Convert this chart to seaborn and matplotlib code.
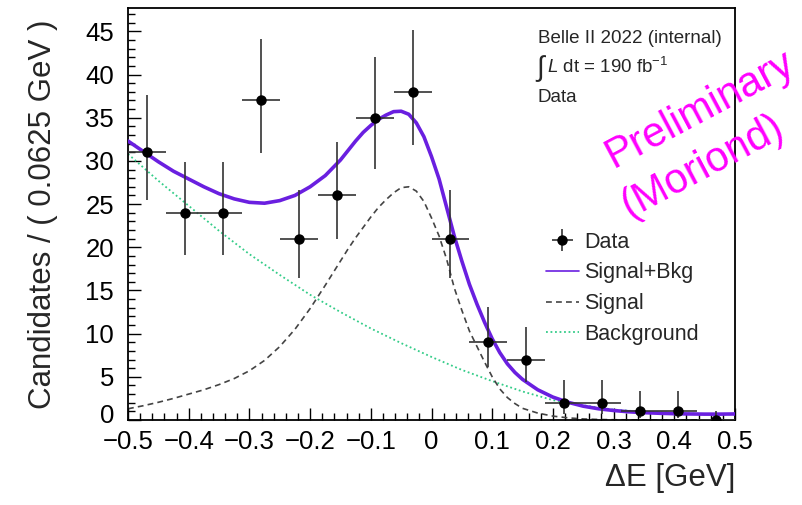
import numpy as np
import pandas as pd
import matplotlib
matplotlib.use("Agg")
import matplotlib.pyplot as plt
import matplotlib.transforms as mtransforms
import seaborn as sns
from matplotlib.ticker import MultipleLocator

# ---------------- data ----------------
bin_centers = [-0.46875, -0.40625, -0.34375, -0.28125, -0.21875, -0.15625,
               -0.09375, -0.03125, 0.03125, 0.09375, 0.15625, 0.21875,
               0.28125, 0.34375, 0.40625, 0.46875]
counts = [31, 24, 24, 37, 21, 26, 35, 38, 21, 9, 7, 2, 2, 1, 1, 0]
err_low = [5.5, 4.9, 4.9, 6.1, 4.6, 5.1, 5.9, 6.2, 4.6, 2.9, 2.6, 1.3, 1.3, 0.8, 0.8, 0.0]
err_high = [6.6, 5.9, 5.9, 7.1, 5.6, 6.2, 7.0, 7.2, 5.6, 4.1, 3.8, 2.6, 2.6, 2.3, 2.3, 1.0]
bin_half_width = 0.03125

curve_x = [-0.500, -0.475, -0.450, -0.425, -0.400, -0.375, -0.350, -0.325,
           -0.300, -0.275, -0.250, -0.225, -0.200, -0.175, -0.150, -0.1375,
           -0.125, -0.1125, -0.100, -0.0875, -0.075, -0.0625, -0.050, -0.0375,
           -0.025, -0.0125, 0.000, 0.0125, 0.025, 0.0375, 0.050, 0.0625,
           0.075, 0.0875, 0.100, 0.1125, 0.125, 0.1375, 0.150, 0.175,
           0.200, 0.225, 0.250, 0.275, 0.300, 0.325, 0.350, 0.375,
           0.400, 0.425, 0.450, 0.475, 0.500]
total_y = [32.3, 31.1, 29.9, 28.8, 27.9, 27.0, 26.2, 25.6,
           25.2, 25.1, 25.4, 26.0, 27.0, 28.3, 30.1, 31.2,
           32.3, 33.3, 34.1, 34.8, 35.3, 35.7, 35.75, 35.4,
           34.4, 32.8, 30.5, 27.9, 24.6, 21.3, 18.4, 15.7,
           13.4, 11.3, 9.4, 7.8, 6.5, 5.5, 4.7, 3.5,
           2.65, 2.05, 1.6, 1.3, 1.1, 0.95, 0.85, 0.78,
           0.73, 0.7, 0.68, 0.68, 0.7]
signal_y = [1.3, 1.65, 2.05, 2.5, 3.0, 3.5, 4.1, 4.8,
            5.7, 6.9, 8.5, 10.5, 12.9, 15.6, 18.4, 19.8,
            21.1, 22.3, 23.5, 24.6, 25.5, 26.3, 26.9, 27.0,
            26.5, 25.3, 23.4, 21.3, 18.6, 15.3, 12.7, 10.3,
            8.5, 6.7, 5.0, 3.6, 2.6, 1.9, 1.35, 0.8,
            0.45, 0.25, 0.12, 0.06, 0.03, 0.02, 0.01, 0.0,
            0.0, 0.0, 0.0, 0.0, 0.0]
bkg_x = [-0.50, -0.45, -0.40, -0.35, -0.30, -0.25, -0.20, -0.15, -0.10, -0.05,
         0.00, 0.05, 0.10, 0.15, 0.20, 0.25, 0.30, 0.35, 0.40, 0.45, 0.50]
bkg_y = [30.8, 27.7, 24.8, 21.9, 19.2, 16.8, 14.5, 12.5, 10.6, 8.9,
         7.3, 5.8, 4.5, 3.3, 2.3, 1.7, 1.2, 0.95, 0.8, 0.7, 0.65]

x_ticks = [-0.5, -0.4, -0.3, -0.2, -0.1, 0.0, 0.1, 0.2, 0.3, 0.4, 0.5]
x_tick_labels = ["\u22120.5", "\u22120.4", "\u22120.3", "\u22120.2", "\u22120.1",
                 "0", "0.1", "0.2", "0.3", "0.4", "0.5"]
y_ticks = [0, 5, 10, 15, 20, 25, 30, 35, 40, 45]

# ---------------- style ----------------
sns.set_style("ticks")
plt.rcParams["font.family"] = ["Liberation Sans", "DejaVu Sans"]
plt.rcParams["mathtext.fontset"] = "custom"
plt.rcParams["mathtext.rm"] = "Liberation Sans"
plt.rcParams["mathtext.it"] = "Liberation Sans:italic"

fig = plt.figure(figsize=(8.02, 5.05), dpi=100)
ax = fig.add_axes([128 / 802, 1 - 420 / 505, (735 - 128) / 802, (420 - 8) / 505])

curves = pd.DataFrame({"x": curve_x, "total": total_y, "signal": signal_y})
bkg = pd.DataFrame({"x": bkg_x, "bkg": bkg_y})

sns.lineplot(data=bkg, x="x", y="bkg", ax=ax, color="#33cc88", lw=1.3,
             linestyle=(0, (1, 1.5)), label="Background", zorder=2)
sns.lineplot(data=curves, x="x", y="signal", ax=ax, color="#444444", lw=1.2,
             linestyle=(0, (3.5, 2.5)), label="Signal", zorder=2)
sns.lineplot(data=curves, x="x", y="total", ax=ax, color="#6a1fe0", lw=2.6,
             label="Signal+Bkg", zorder=3)
ax.errorbar(bin_centers, counts, yerr=[err_low, err_high], xerr=bin_half_width,
            fmt="o", color="black", ecolor="#333333", elinewidth=1.2,
            markersize=6.5, capsize=0, label="Data", zorder=4)

ax.set_xlim(-0.5, 0.5)
ax.set_ylim(0, 47.7)
ax.set_xticks(x_ticks)
ax.set_xticklabels(x_tick_labels)
ax.set_yticks(y_ticks)
ax.xaxis.set_minor_locator(MultipleLocator(0.02))
ax.yaxis.set_minor_locator(MultipleLocator(1))
ax.tick_params(which="both", direction="in", width=1.0, colors="black",
               labelsize=18.5, top=False, right=False)
ax.tick_params(which="major", length=9)
ax.tick_params(which="minor", length=5)
ax.tick_params(axis="x", pad=7)
ax.tick_params(axis="y", pad=10)
for s in ax.spines.values():
    s.set_visible(True)
    s.set_linewidth(1.3)
    s.set_color("black")

# nudge the "0" y tick label up a little so it does not collide with "-0.5"
lab0 = ax.get_yticklabels()[0]
lab0.set_transform(lab0.get_transform() +
                   mtransforms.ScaledTranslation(0, 5 / 72, fig.dpi_scale_trans))

ax.set_xlabel("\u0394E [GeV]", fontsize=22.5, loc="right", labelpad=7)
ax.set_ylabel("Candidates / ( 0.0625 GeV )", fontsize=22.5, labelpad=20)

handles, labels = ax.get_legend_handles_labels()
order = ["Data", "Signal+Bkg", "Signal", "Background"]
hmap = dict(zip(labels, handles))
leg = ax.legend([hmap[k] for k in order], order, loc="upper left",
                bbox_to_anchor=(0.675, 0.478), frameon=False, fontsize=15.5,
                handlelength=1.5, handletextpad=0.25, labelspacing=0.45,
                borderaxespad=0)
for line in leg.get_lines():
    if line.get_color() == "#6a1fe0":
        line.set_linewidth(1.2)

ax.text(0.675, 0.927, "Belle II 2022 (internal)", transform=ax.transAxes,
        fontsize=13.5, va="center", ha="left")
ax.text(0.672, 0.852, "\u222b", transform=ax.transAxes,
        fontsize=20, va="center", ha="left")
ax.text(0.690, 0.856, r"$L$ dt = 190 fb$^{-1}$", transform=ax.transAxes,
        fontsize=13.5, va="center", ha="left")
ax.text(0.675, 0.782, "Data", transform=ax.transAxes,
        fontsize=13.5, va="center", ha="left")

fig.text(700 / 802, 1 - 110 / 505, "Preliminary", color="#ff00ff", fontsize=30,
         rotation=28, ha="center", va="center", rotation_mode="anchor")
fig.text(703 / 802, 1 - 167 / 505, "(Moriond)", color="#ff00ff", fontsize=30,
         rotation=28, ha="center", va="center", rotation_mode="anchor")

fig.savefig("out.png", dpi=100)
